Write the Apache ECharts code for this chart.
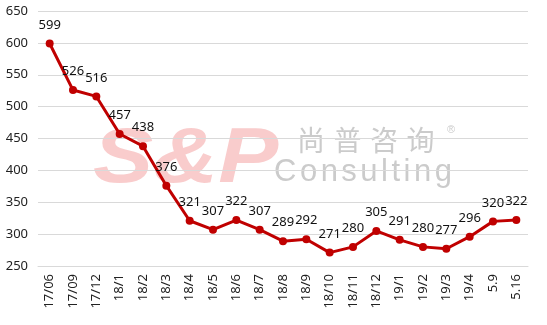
<!DOCTYPE html>
<html><head><meta charset="utf-8">
<script src="https://cdn.jsdelivr.net/npm/echarts@6/dist/echarts.min.js"></script>
<style>html,body{margin:0;padding:0;background:#fff}#c{width:547px;height:325px}</style>
</head><body><div id="c"></div>
<script>
const categories = ['17/06','17/09','17/12','18/1','18/2','18/3','18/4','18/5','18/6','18/7','18/8','18/9','18/10','18/11','18/12','19/1','19/2','19/3','19/4','5.9','5.16'];
const values = [599,526,516,457,438,376,321,307,322,307,289,292,271,280,305,291,280,277,296,320,322];
const yTicks = {min:250, max:650, interval:50};
const chart = echarts.init(document.getElementById('c'));
const font = '"Microsoft YaHei","Noto Sans","Liberation Sans",sans-serif';

const cv = document.createElement('canvas').getContext('2d');
function spaced(text, x, y, f, fill, spacing){
  cv.font = f;
  const out = [];
  let cx = x;
  for (const ch of text){
    out.push({type:'text',x:cx,y:y,z:0,silent:true,style:{text:ch,font:f,fill:fill,verticalAlign:'top'}});
    cx += cv.measureText(ch).width + spacing;
  }
  return out;
}
const grey = 'rgba(160,160,160,0.55)';
const wm = [
  {type:'text',x:93,y:122,z:0,silent:true,scaleX:1.17,style:{text:'S&P',font:'italic bold 77px "Liberation Sans",Arial,sans-serif',fill:'rgba(240,120,120,0.38)',verticalAlign:'top'}},
  ...spaced('尚普咨询',297,126,'28px "Noto Sans CJK SC",sans-serif',grey,8.5),
  {type:'text',x:447,y:124,z:0,silent:true,style:{text:'®',font:'11px "Liberation Sans",sans-serif',fill:grey,verticalAlign:'top'}},
  ...spaced('Consulting',274,157,'31px "Liberation Sans",Arial,sans-serif',grey,3.5)
];

chart.setOption({
  animation:false,
  grid:{left:38,right:19,top:11,bottom:59},
  graphic:wm,
  xAxis:{type:'category',data:categories,boundaryGap:true,
    axisLine:{lineStyle:{color:'#d9d9d9'}},axisTick:{show:false},
    axisLabel:{rotate:90,color:'#222',fontSize:13,fontFamily:font,margin:8,interval:0}},
  yAxis:{type:'value',min:yTicks.min,max:yTicks.max,interval:yTicks.interval,
    axisLine:{show:false},axisTick:{show:false},
    splitLine:{lineStyle:{color:'#d9d9d9'}},
    axisLabel:{color:'#222',fontSize:13,fontFamily:font,margin:10}},
  series:[{type:'line',data:values,symbol:'circle',symbolSize:8,z:3,
    lineStyle:{color:'#C00000',width:3},itemStyle:{color:'#C00000'},
    label:{show:true,position:'top',color:'#111',fontSize:13,fontFamily:font,distance:8}}]
});
</script></body></html>
